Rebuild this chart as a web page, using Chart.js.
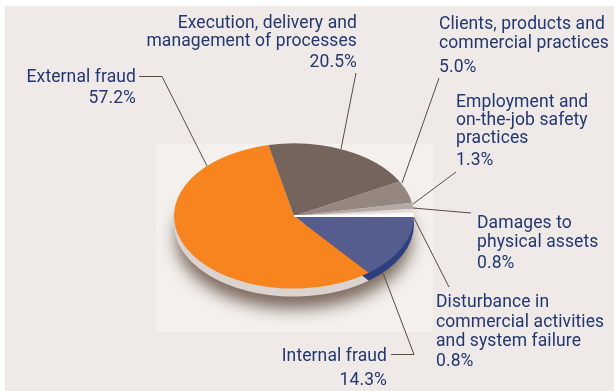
<!DOCTYPE html>
<html>
<head>
<meta charset="utf-8">
<style>
  html, body { margin: 0; padding: 0; background: #fff; overflow: hidden; }
  canvas { display: block; }
</style>
</head>
<body>
<canvas id="chart" width="614" height="391"></canvas>
<script src="https://cdn.jsdelivr.net/npm/chart.js@4"></script>
<script>
const categories = [
  "Internal fraud",
  "External fraud",
  "Execution, delivery and management of processes",
  "Clients, products and commercial practices",
  "Employment and on-the-job safety practices",
  "Damages to physical assets",
  "Disturbance in commercial activities and system failure",
];
const shares = [14.3, 57.2, 20.5, 5.0, 1.3, 0.8, 0.8];
const sliceColors = ["#555d8f", "#f7841e", "#75645c", "#958780", "#b5aaa5", "#e2dcd9", "#f7f5f3"];
const rimColors = ["#2e3f7f", "#dcd3ce", "#dcd3ce", "#dcd3ce", "#dcd3ce", "#dcd3ce", "#2e3f7f"];

// squash factor of the tilted pie and height of its rim
const TILT = 0.605;
const RIM = 8;
const FONT = '17.5px Roboto';
const NAVY = "#22376f";

// annotation layout: text lines with alignment, then the leader line
const callouts = [
  { align: "right", x: 357, lines: [["Execution, delivery and", 28], ["management of processes", 46], ["20.5%", 67]], leader: [[356, 73], [341, 149]] },
  { align: "right", x: 136, lines: [["External fraud", 82], ["57.2%", 103]], leader: [[139, 76.5], [162, 76.5], [207, 166]] },
  { align: "left", x: 439, lines: [["Clients, products and", 29], ["commercial practices", 48], ["5.0%", 72]], leader: [[439, 78], [402, 183]] },
  { align: "left", x: 456, lines: [["Employment and", 107], ["on-the-job safety", 125], ["practices", 143], ["1.3%", 165]], leader: [[456, 172], [413, 204]] },
  { align: "left", x: 477, lines: [["Damages to", 228], ["physical assets", 247], ["0.8%", 268]], leader: [[471, 213], [413, 208]] },
  { align: "left", x: 436, lines: [["Disturbance in", 307], ["commercial activities", 327], ["and system failure", 346], ["0.8%", 366]], leader: [[449, 287], [414, 218]] },
  { align: "right", x: 387, lines: [["Internal fraud", 361], ["14.3%", 385]], leader: [[391, 354.5], [414, 354.5], [383, 273]] },
];

const backdrop = {
  id: "backdrop",
  beforeDraw(chart) {
    const { ctx } = chart;
    ctx.save();
    ctx.fillStyle = "#efeae8";
    ctx.fillRect(5, 6, 609, 385);
    ctx.fillStyle = "#f3f0ee";
    ctx.fillRect(156, 144, 277, 188);
    ctx.restore();
  },
};

// flattens the pie and draws shadow and rim from the arc elements
const tiltedPie = {
  id: "tiltedPie",
  beforeDatasetsDraw(chart) {
    const { ctx } = chart;
    const arcs = chart.getDatasetMeta(0).data;
    const { x: cx, y: cy, outerRadius: r } = arcs[0];
    ctx.save();
    ctx.save();
    ctx.shadowColor = "rgba(84,60,45,0.75)";
    ctx.shadowBlur = 16;
    ctx.shadowOffsetY = 14;
    ctx.fillStyle = "#dcd3ce";
    ctx.beginPath();
    ctx.ellipse(cx, cy + RIM, r - 2, r * TILT - 2, 0, 0, Math.PI * 2);
    ctx.fill();
    ctx.restore();
    arcs.forEach((arc, i) => {
      ctx.fillStyle = rimColors[i];
      ctx.beginPath();
      ctx.moveTo(cx, cy + RIM);
      ctx.ellipse(cx, cy + RIM, r, r * TILT, 0, arc.startAngle, arc.endAngle);
      ctx.closePath();
      ctx.fill();
    });
    ctx.translate(0, cy);
    ctx.scale(1, TILT);
    ctx.translate(0, -cy);
  },
  afterDatasetsDraw(chart) {
    const { ctx } = chart;
    ctx.restore();
    const { x: cx, y: cy, outerRadius: r } = chart.getDatasetMeta(0).data[0];
    ctx.save();
    ctx.strokeStyle = "#fff";
    ctx.lineWidth = 2;
    ctx.beginPath();
    ctx.moveTo(cx, cy);
    ctx.lineTo(cx + r, cy);
    ctx.stroke();
    ctx.restore();
  },
};

const labels = {
  id: "labels",
  afterDraw(chart) {
    const { ctx } = chart;
    ctx.save();
    ctx.font = FONT;
    ctx.letterSpacing = "0.1px";
    ctx.fillStyle = NAVY;
    ctx.strokeStyle = "#5b4a42";
    ctx.lineWidth = 1;
    callouts.forEach((c) => {
      ctx.textAlign = c.align;
      c.lines.forEach(([text, y]) => ctx.fillText(text, c.x, y));
      ctx.beginPath();
      c.leader.forEach(([x, y], i) => (i ? ctx.lineTo(x, y) : ctx.moveTo(x, y)));
      ctx.stroke();
    });
    ctx.restore();
  },
};

new Chart(document.getElementById("chart"), {
  type: "pie",
  data: {
    labels: categories,
    datasets: [{ data: shares, backgroundColor: sliceColors, borderWidth: 0 }],
  },
  options: {
    responsive: false,
    animation: false,
    rotation: 90,
    layout: { padding: { left: 174, right: 200, top: 96, bottom: 55 } },
    plugins: { legend: { display: false }, tooltip: { enabled: false } },
  },
  plugins: [backdrop, tiltedPie, labels],
});
</script>
</body>
</html>
